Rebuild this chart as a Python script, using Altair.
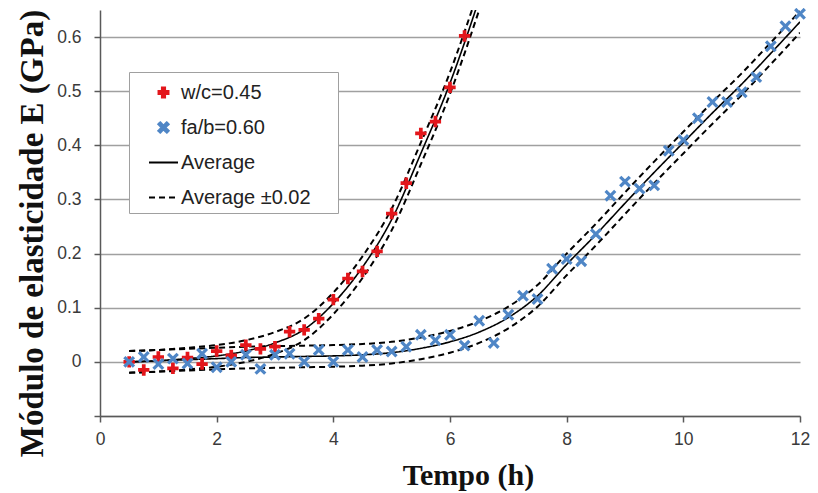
import math
import altair as alt
import pandas as pd

# ---------------- data ----------------
SERIES = ["w/c=0.45", "fa/b=0.60", "Average", "Average ±0.02"]
COLORS = ["#e3161b", "#4f86c6", "#000000", "#000000"]

wc_t = [0.5, 0.75, 1.0, 1.25, 1.5, 1.75, 2.0, 2.25, 2.5, 2.75, 3.0, 3.25,
        3.5, 3.75, 4.0, 4.25, 4.5, 4.75, 5.0, 5.25, 5.5, 5.75, 6.0, 6.25]
wc_E = [0.000, -0.015, 0.009, -0.012, 0.008, -0.004, 0.020, 0.012, 0.031, 0.024, 0.028, 0.056,
        0.059, 0.080, 0.115, 0.154, 0.167, 0.204, 0.274, 0.330, 0.422, 0.444, 0.507, 0.602]

fab_t = [0.5, 0.75, 1.0, 1.25, 1.5, 1.75, 2.0, 2.25, 2.5, 2.75, 3.0, 3.25,
         3.5, 3.75, 4.0, 4.25, 4.5, 4.75, 5.0, 5.25, 5.5, 5.75, 6.0, 6.25,
         6.5, 6.75, 7.0, 7.25, 7.5, 7.75, 8.0, 8.25, 8.5, 8.75, 9.0, 9.25,
         9.5, 9.75, 10.0, 10.25, 10.5, 10.75, 11.0, 11.25, 11.5, 11.75, 12.0]
fab_E = [0.000, 0.009, -0.004, 0.006, -0.003, 0.015, -0.010, 0.000, 0.013, -0.013, 0.013, 0.015,
         0.000, 0.022, 0.000, 0.022, 0.009, 0.022, 0.019, 0.028, 0.050, 0.040, 0.050, 0.030,
         0.076, 0.035, 0.087, 0.122, 0.116, 0.172, 0.190, 0.186, 0.236, 0.307, 0.333, 0.320,
         0.326, 0.390, 0.410, 0.450, 0.480, 0.480, 0.498, 0.526, 0.583, 0.620, 0.643]

wc_avg_t = [0.5, 1.0, 1.5, 2.0, 2.5, 3.0, 3.5, 4.0, 4.5, 5.0, 5.5, 6.0, 6.25, 6.5]
wc_avg_E = [0.000, 0.002, 0.006, 0.011, 0.020, 0.035, 0.060, 0.108, 0.175, 0.263, 0.385, 0.515, 0.590, 0.670]

fab_avg_t = [0.5, 1.0, 1.5, 2.0, 2.5, 3.0, 3.5, 4.0, 4.5, 5.0, 5.5, 6.0, 6.5, 7.0,
             7.5, 8.0, 8.5, 9.0, 9.5, 10.0, 10.5, 11.0, 11.5, 12.0]
fab_avg_E = [0.000, 0.002, 0.004, 0.006, 0.008, 0.009, 0.010, 0.011, 0.013, 0.017, 0.025, 0.037, 0.055, 0.082,
             0.122, 0.180, 0.235, 0.293, 0.350, 0.405, 0.460, 0.513, 0.570, 0.628]

BAND = 0.02

# ---------------- tables ----------------
pts = pd.DataFrame(
    [{"t": t, "E": e, "series": SERIES[0]} for t, e in zip(wc_t, wc_E)]
    + [{"t": t, "E": e, "series": SERIES[1]} for t, e in zip(fab_t, fab_E)]
)

avg_rows, band_rows = [], []
for name, ts, es in [("wc", wc_avg_t, wc_avg_E), ("fab", fab_avg_t, fab_avg_E)]:
    for t, e in zip(ts, es):
        avg_rows.append({"t": t, "E": e, "series": SERIES[2], "curve": name + "_avg"})
        band_rows.append({"t": t, "E": e + BAND, "series": SERIES[3], "curve": name + "_up"})
        band_rows.append({"t": t, "E": e - BAND, "series": SERIES[3], "curve": name + "_lo"})
avg_df = pd.DataFrame(avg_rows)
band_df = pd.DataFrame(band_rows)

# ---------------- marker shapes (unit-box paths) ----------------
def plus_pts(r, w):
    return [(-w, -r), (w, -r), (w, -w), (r, -w), (r, w), (w, w), (w, r), (-w, r),
            (-w, w), (-r, w), (-r, -w), (-w, -w)]

def to_path(points):
    return "M" + " L".join(f"{x:.3f},{y:.3f}" for x, y in points) + " Z"

PLUS = to_path(plus_pts(0.35, 0.115))
c = math.cos(math.pi / 4)
XMARK = to_path([((x - y) * c, (x + y) * c) for x, y in plus_pts(0.42, 0.10)])

color_scale = alt.Scale(domain=SERIES, range=COLORS)
shape_scale = alt.Scale(domain=SERIES, range=[PLUS, XMARK, "stroke", "stroke"])
dash_scale = alt.Scale(domain=SERIES, range=[[1, 0], [1, 0], [1, 0], [6, 4]])

# an invisible title on the right only widens the legend frame
leg = alt.Legend(title="T", titleOrient="right", orient="none", legendX=29, legendY=62)

x_enc = alt.X(
    "t:Q",
    scale=alt.Scale(domain=[0, 12], nice=False, zero=False),
    axis=alt.Axis(values=[0, 2, 4, 6, 8, 10, 12], title="Tempo (h)", grid=False,
                  titleX=368, titleY=68, titleAlign="center", titleBaseline="alphabetic",
                  titleFontSize=30, labelFlush=False, labelPadding=8, tickSize=6),
)
y_enc = alt.Y(
    "E:Q",
    scale=alt.Scale(domain=[-0.1, 0.65], nice=False, zero=False),
    axis=alt.Axis(values=[-0.1, 0, 0.1, 0.2, 0.3, 0.4, 0.5, 0.6],
                  labelExpr="datum.value < -0.05 ? '' : (abs(datum.value) < 0.001 ? '0' : format(datum.value, '.1f'))",
                  title="Módulo de elasticidade E (GPa)", titleX=-58, titleY=223,
                  titleAngle=270, titleAlign="center", titleBaseline="alphabetic",
                  titleFontSize=33, grid=True, gridColor="#a0a0a0", gridWidth=1.6,
                  labelPadding=13, tickSize=6, labelFlush=False),
)

avg_layer = alt.Chart(avg_df).mark_line(strokeWidth=1.6, clip=True, interpolate="monotone").encode(
    x=x_enc, y=y_enc,
    color=alt.Color("series:N", scale=color_scale, legend=leg),
    strokeDash=alt.StrokeDash("series:N", scale=dash_scale, legend=leg),
    detail="curve:N",
)
band_layer = alt.Chart(band_df).mark_line(strokeWidth=2, clip=True, interpolate="monotone").encode(
    x=x_enc, y=y_enc,
    color=alt.Color("series:N", scale=color_scale, legend=leg),
    strokeDash=alt.StrokeDash("series:N", scale=dash_scale, legend=leg),
    detail="curve:N",
)
pt_layer = alt.Chart(pts).mark_point(filled=True, size=1050, opacity=1).encode(
    x=x_enc, y=y_enc,
    color=alt.Color("series:N", scale=color_scale, legend=leg),
    shape=alt.Shape("series:N", scale=shape_scale, legend=leg),
)

chart = (
    alt.layer(avg_layer, band_layer, pt_layer)
    .properties(width=700, height=406, autosize=alt.AutoSizeParams(type="none"),
                padding={"left": 92, "top": 2, "right": 10, "bottom": 75})
    .configure_axis(domainColor="#595959", domainWidth=1.5, tickColor="#595959", tickWidth=1.5,
                    labelFont="Liberation Sans", labelFontSize=17.5, labelColor="#3a3a3a",
                    titleFont="Liberation Serif", titleFontWeight="bold", titleColor="#111111")
    .configure_legend(fillColor="white", strokeColor="#a0a0a0", padding=5, symbolOffset=14,
                      labelFont="Liberation Sans", labelFontSize=20, labelColor="#222222",
                      rowPadding=9, symbolSize=841, symbolStrokeWidth=1.8, labelOffset=2,
                      titleColor="transparent", titleFontSize=12, titlePadding=14)
    .configure_view(stroke="transparent")
)

chart.save("out.html", embed_options={"renderer": "svg", "actions": False})
